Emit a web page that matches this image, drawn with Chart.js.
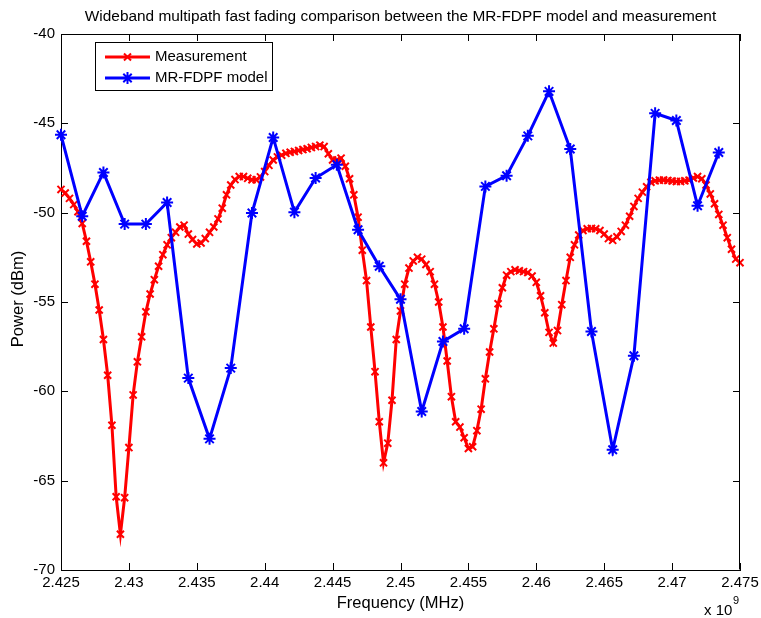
<!DOCTYPE html>
<html>
<head>
<meta charset="utf-8">
<script src="https://cdn.jsdelivr.net/npm/chart.js@4.4.1/dist/chart.umd.min.js"></script>
<style>
  body { margin: 0; background: #fff; }
  #wrap { width: 761px; height: 618px; }
</style>
</head>
<body>
<div id="wrap"><canvas id="chart1" width="761" height="618"></canvas></div>
<script>
// measured power (dBm), one sample every 0.3125 MHz from 2.425 GHz
var measPower = [
  -48.7, -48.9, -49.2, -49.55, -49.95, -50.6, -51.6, -52.75, -54.0, -55.45,
  -57.1, -59.1, -61.9, -65.9, -68.0, -65.95, -63.15, -60.2, -58.35, -56.95,
  -55.55, -54.55, -53.75, -53.0, -52.35, -51.8, -51.4, -51.1, -50.8, -50.7,
  -51.2, -51.5, -51.75, -51.7, -51.45, -51.1, -50.8, -50.35, -49.75, -49.0,
  -48.45, -48.15, -47.98, -47.98, -48.08, -48.16, -48.16, -48.0, -47.7, -47.35,
  -47.05, -46.88, -46.78, -46.68, -46.62, -46.57, -46.52, -46.47, -46.42, -46.35,
  -46.3, -46.22, -46.3, -46.7, -47.05, -47.05, -46.95, -47.4, -48.1, -49.0,
  -50.25, -52.1, -53.8, -56.4, -58.9, -61.7, -64.0, -62.9, -60.5, -57.1,
  -55.5, -54.0, -53.1, -52.7, -52.5, -52.6, -52.9, -53.3, -54.0, -55.0,
  -56.4, -58.3, -60.3, -61.7, -62.0, -62.6, -63.2, -63.1, -62.2, -61.0,
  -59.3, -57.8, -56.5, -55.1, -54.2, -53.5, -53.3, -53.2, -53.25, -53.3,
  -53.35, -53.55, -53.9, -54.65, -55.6, -56.7, -57.3, -56.6, -55.15, -53.8,
  -52.5, -51.8, -51.25, -51.0, -50.9, -50.88, -50.9, -51.0, -51.2, -51.45,
  -51.55, -51.35, -51.05, -50.7, -50.2, -49.65, -49.2, -48.85, -48.55, -48.3,
  -48.22, -48.18, -48.17, -48.2, -48.23, -48.25, -48.25, -48.22, -48.18, -48.06,
  -47.98, -48.1, -48.45, -48.95, -49.5, -50.1, -50.7, -51.4, -52.05, -52.6,
  -52.8
];
// MR-FDPF model power (dBm), one sample every 1.5625 MHz from 2.425 GHz
var modelPower = [
  -45.64, -50.2, -47.75, -50.64, -50.64, -49.43, -59.26, -62.66, -58.7, -50.02,
  -45.79, -49.97, -48.06, -47.32, -50.96, -53.0, -54.85, -61.13, -57.21, -56.5,
  -48.53, -47.93, -45.7, -43.21, -46.44, -56.65, -63.27, -58.01, -44.44, -44.84,
  -49.61, -46.63
];
var startFreq = 2.425e9;
var measStep = 0.3125e6;
var modelStep = 1.5625e6;
var xTicks = [2.425, 2.43, 2.435, 2.44, 2.445, 2.45, 2.455, 2.46, 2.465, 2.47, 2.475];
var yTicks = [-70, -65, -60, -55, -50, -45, -40];

var FONT = '"Liberation Sans", Arial, Helvetica, sans-serif';

var measData = measPower.map(function (p, i) { return { x: startFreq + i * measStep, y: p }; });
var modelData = modelPower.map(function (p, i) { return { x: startFreq + i * modelStep, y: p }; });

// matlab-ish decorations: inward ticks on all four sides, box, legend, labels
var matlabBox = {
  id: 'matlabBox',
  afterDraw: function (chart) {
    var ctx = chart.ctx, a = chart.chartArea;
    var xs = chart.scales.x, ys = chart.scales.y;
    ctx.save();
    ctx.strokeStyle = '#000';
    ctx.lineWidth = 1;
    ctx.beginPath();
    ctx.moveTo(a.left + 0.5, a.top + 0.5);
    ctx.lineTo(a.right - 0.5, a.top + 0.5);
    ctx.lineTo(a.right - 0.5, a.bottom - 0.5);
    ctx.stroke();
    ctx.beginPath();
    xTicks.forEach(function (t) {
      var px = Math.round(xs.getPixelForValue(t * 1e9)) + 0.5;
      ctx.moveTo(px, a.bottom); ctx.lineTo(px, a.bottom - 7);
      ctx.moveTo(px, a.top); ctx.lineTo(px, a.top + 7);
    });
    yTicks.forEach(function (t) {
      var py = Math.round(ys.getPixelForValue(t)) + 0.5;
      ctx.moveTo(a.left, py); ctx.lineTo(a.left + 7, py);
      ctx.moveTo(a.right, py); ctx.lineTo(a.right - 7, py);
    });
    ctx.stroke();

    // title and axis labels
    ctx.fillStyle = '#000';
    ctx.textAlign = 'center';
    ctx.textBaseline = 'middle';
    ctx.font = '15.4px ' + FONT;
    ctx.fillText('Wideband multipath fast fading comparison between the MR-FDPF model and measurement', (a.left + a.right) / 2, 17);
    ctx.font = '16.5px ' + FONT;
    ctx.fillText('Frequency (MHz)', (a.left + a.right) / 2, 603);
    ctx.save();
    ctx.translate(18, 299);
    ctx.rotate(-Math.PI / 2);
    ctx.fillText('Power (dBm)', 0, 0);
    ctx.restore();
    ctx.textAlign = 'left';
    ctx.textBaseline = 'alphabetic';
    ctx.font = '15px ' + FONT;
    ctx.fillText('x 10', 704, 615);
    ctx.font = '11px ' + FONT;
    ctx.fillText('9', 733, 604);

    // legend
    var lx = 95.5, ly = 42.5, lw = 177, lh = 48;
    ctx.fillStyle = '#fff';
    ctx.fillRect(lx, ly, lw, lh);
    ctx.strokeStyle = '#000';
    ctx.lineWidth = 1;
    ctx.strokeRect(lx, ly, lw, lh);
    var rows = [
      { y: 57, color: '#ff0000', label: 'Measurement', marker: 'x' },
      { y: 78, color: '#0000ff', label: 'MR-FDPF model', marker: '*' }
    ];
    rows.forEach(function (r) {
      ctx.strokeStyle = r.color;
      ctx.lineWidth = 3;
      ctx.beginPath();
      ctx.moveTo(105, r.y); ctx.lineTo(150, r.y);
      ctx.stroke();
      ctx.lineWidth = 2;
      ctx.beginPath();
      var cx = 127.5, d;
      if (r.marker === 'x') {
        d = 3.5;
        ctx.moveTo(cx - d, r.y - d); ctx.lineTo(cx + d, r.y + d);
        ctx.moveTo(cx - d, r.y + d); ctx.lineTo(cx + d, r.y - d);
      } else {
        d = 6; var e = 4.2;
        ctx.moveTo(cx - d, r.y); ctx.lineTo(cx + d, r.y);
        ctx.moveTo(cx, r.y - d); ctx.lineTo(cx, r.y + d);
        ctx.moveTo(cx - e, r.y - e); ctx.lineTo(cx + e, r.y + e);
        ctx.moveTo(cx - e, r.y + e); ctx.lineTo(cx + e, r.y - e);
      }
      ctx.stroke();
      ctx.fillStyle = '#000';
      ctx.font = '15px ' + FONT;
      ctx.textAlign = 'left';
      ctx.textBaseline = 'middle';
      ctx.fillText(r.label, 155, r.y);
    });
    ctx.restore();
  }
};

var ctx = document.getElementById('chart1').getContext('2d');
var chart1 = new Chart(ctx, {
  type: 'line',
  data: {
    datasets: [{
      label: 'MR-FDPF model',
      data: modelData,
      borderColor: '#0000ff',
      backgroundColor: '#0000ff',
      borderWidth: 3,
      pointStyle: 'star',
      pointRadius: 6,
      pointBorderWidth: 2,
      pointBorderColor: '#0000ff',
      fill: false,
      tension: 0,
      clip: false,
      order: 0
    }, {
      label: 'Measurement',
      data: measData,
      borderColor: '#ff0000',
      backgroundColor: '#ff0000',
      borderWidth: 3,
      pointStyle: 'crossRot',
      pointRadius: 5,
      pointBorderWidth: 2,
      pointBorderColor: '#ff0000',
      fill: false,
      tension: 0,
      clip: false,
      order: 1
    }]
  },
  options: {
    responsive: false,
    animation: false,
    devicePixelRatio: 1,
    layout: { padding: { top: 34, right: 21, left: 0, bottom: 0 } },
    plugins: { legend: { display: false }, title: { display: false }, tooltip: { enabled: false } },
    scales: {
      x: {
        type: 'linear',
        min: 2.425e9,
        max: 2.475e9,
        afterFit: function (s) { s.height = 48; s.paddingLeft = 0; s.paddingRight = 0; },
        afterBuildTicks: function (s) { s.ticks = xTicks.map(function (t) { return { value: t * 1e9 }; }); },
        grid: { display: false, drawTicks: false },
        border: { display: true, color: '#000', width: 1 },
        ticks: {
          padding: 4,
          color: '#000',
          font: { size: 15, family: FONT },
          maxRotation: 0,
          autoSkip: false,
          callback: function (v) { return String(parseFloat((v / 1e9).toFixed(3))); }
        }
      },
      y: {
        min: -70,
        max: -40,
        afterFit: function (s) { s.width = 61; s.paddingTop = 0; s.paddingBottom = 0; },
        afterBuildTicks: function (s) { s.ticks = yTicks.map(function (t) { return { value: t }; }); },
        grid: { display: false, drawTicks: false },
        border: { display: true, color: '#000', width: 1 },
        ticks: {
          padding: 6,
          color: '#000',
          font: { size: 15, family: FONT },
          callback: function (v) { return String(v); }
        }
      }
    }
  },
  plugins: [matlabBox]
});
</script>
</body>
</html>
